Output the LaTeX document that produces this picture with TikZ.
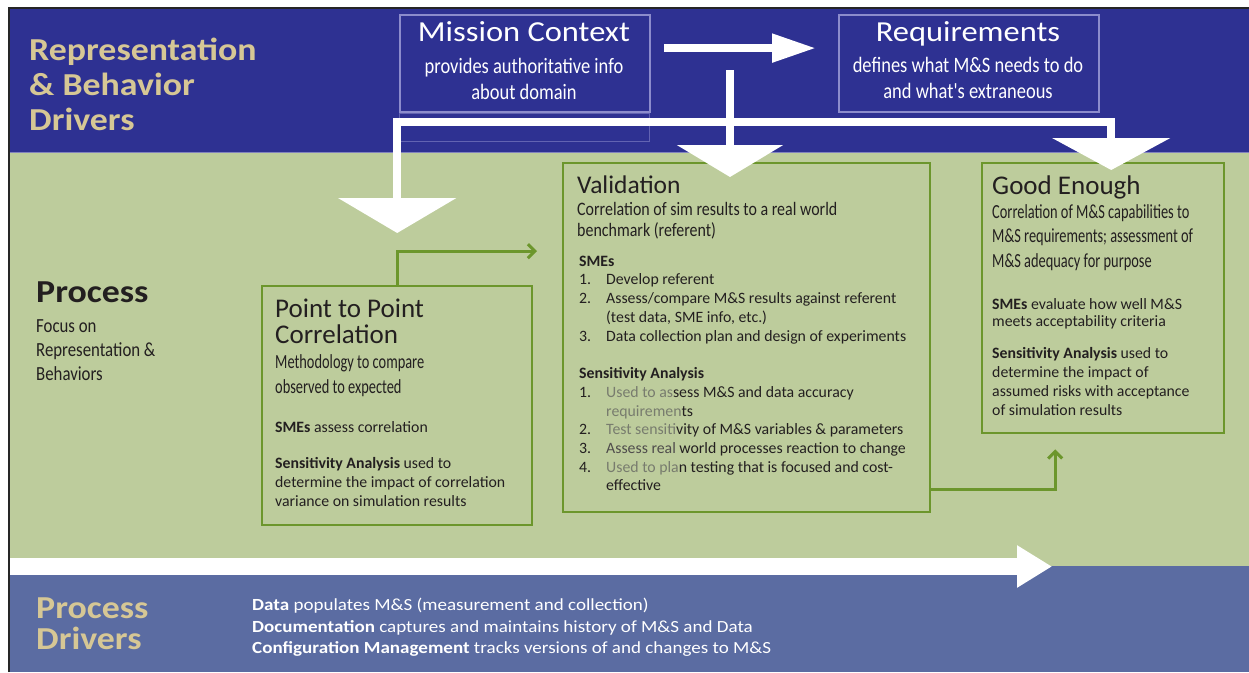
\documentclass[tikz,border=0pt]{standalone}
\usepackage{fontspec}
\setmainfont{Carlito}
\newfontfamily\condfont[FakeStretch=0.72]{Carlito}
\newfontfamily\condwide[FakeStretch=0.84]{Carlito}
\newfontfamily\hdfont[FakeStretch=1.12]{Carlito}
\newfontfamily\widefont[FakeStretch=1.12]{Carlito}
\usepackage{xcolor}
\usetikzlibrary{arrows.meta,positioning,calc}
\definecolor{navyband}{RGB}{46,49,146}
\definecolor{sageband}{RGB}{189,204,156}
\definecolor{slateband}{RGB}{91,108,162}
\definecolor{tanhead}{RGB}{214,199,149}
\definecolor{lavline}{RGB}{140,140,204}
\definecolor{boxgreen}{RGB}{108,150,44}
\definecolor{inkdark}{RGB}{35,31,32}
\definecolor{fadeink}{RGB}{120,124,110}
\newcommand{\fsz}[2]{\fontsize{#1}{#2}\selectfont}
\newcommand{\blr}[1]{{\color{fadeink}#1}}
\newcommand{\nm}[1]{\makebox[27pt][l]{#1}}

\begin{document}
\begin{tikzpicture}[x=1pt,y=-1pt]
\tikzset{
  hb/.style={rectangle,draw=lavline,line width=2.2pt,anchor=north west,inner sep=0pt,minimum height=97pt},
  gb/.style={rectangle,draw=boxgreen,line width=2.4pt,anchor=north west,inner sep=0pt},
  wa/.style={draw=white,line width=8pt},
  ga/.style={draw=boxgreen,line width=3pt,-{Straight Barb[length=7pt,width=14pt]}},
  tx/.style={anchor=north west,inner sep=0pt,align=left,text=inkdark},
  ht/.style={anchor=base,inner sep=0pt,text=white,font=\hdfont\fsz{29}{30}},
  hs/.style={anchor=north,inner sep=0pt,align=center,text=white,font=\condwide\fsz{22}{26}}
}
\useasboundingbox (0,0) rectangle (1249,672);
% bands
\fill[navyband] (10,9) rectangle (1249,152);
\fill[sageband] (10,152) rectangle (1249,566);
\fill[slateband] (10,566) rectangle (1249,672);
\draw[navyband!60!white,line width=1pt] (10,152) -- (1249,152);
\draw[black!85,line width=2pt] (9,672) -- (9,8) -- (1249,8);

% top row
\node[tx,text=tanhead,font=\hdfont\bfseries\fsz{32}{35}] (rbd) at (29,37.5) {Representation\\\& Behavior\\Drivers};
\node[hb,minimum width=250pt] (mc) at (399,14) {};
\draw[lavline!55!navyband,line width=0.8pt] (mc.south west) rectangle ++(250,28);
\node[ht] (mct) at (524,41) {Mission Context};
\node[hs] (mcs) at (524,58) {provides authoritative info\\about domain};
\node[hb,minimum width=260pt] (req) at (838,14) {};
\node[ht] (reqt) at (968,41) {Requirements};
\node[hs] (reqs) at (968,57) {defines what M\&S needs to do\\and what's extraneous};

% process column
\node[tx,font=\hdfont\bfseries\fsz{32}{32}] (proc) at (36,281.4) {Process};
\node[tx,font=\condwide\fsz{20}{24}] (procs) at (36,319) {Focus on\\Representation \&\\Behaviors};

% boxes
\node[gb,minimum width=270pt,minimum height=239pt] (p2p) at (261,285) {};
\node[gb,minimum width=367pt,minimum height=349pt] (val) at (562,162) {};
\node[gb,minimum width=242pt,minimum height=270pt] (ge) at (981,162) {};

\node[tx,font=\fsz{27}{26}] (p2pt) at (275,298.6) {Point to Point\\Correlation};
\node[tx,font=\condfont\fsz{20}{25}] (p2pd) at (275,354) {Methodology to compare\\observed to expected};
\node[tx,font=\fsz{15.8}{19}] (p2ps) at (275,421.5) {\textbf{SMEs} assess correlation};
\node[tx,font=\fsz{15.8}{19}] (p2pa) at (275,457.5) {\textbf{Sensitivity Analysis} used to\\determine the impact of correlation\\variance on simulation results};

\node[tx,font=\fsz{25.5}{24}] (valt) at (577,176) {Validation};
\node[tx,font=\condwide\fsz{19}{21}] (vald) at (577,202) {Correlation of sim results to a real world\\benchmark (referent)};
\node[tx,font=\fsz{15.8}{18.75}] (vals) at (579,255.5) {\textbf{SMEs}\\\nm{1.}Develop referent\\\nm{2.}Assess/compare M\&S results against referent\\\nm{}(test data, SME info, etc.)\\\nm{3.}Data collection plan and design of experiments};
\node[tx,font=\fsz{15.8}{18.67}] (vala) at (579,367.5) {\textbf{Sensitivity Analysis}\\\nm{1.}\blr{Used to as}sess M\&S and data accuracy\\\nm{}\blr{requiremen}ts\\\nm{2.}\blr{Test sensiti}vity of M\&S variables \& parameters\\\nm{3.}{\color{inkdark!80}Assess real} world processes reaction to change\\\nm{4.}\blr{Used to pla}n testing that is focused and cost-\\\nm{}effective};

\node[tx,font=\fsz{27}{25}] (get) at (992,176) {Good Enough};
\node[tx,font=\condfont\fsz{20}{24.5}] (ged) at (992,204) {Correlation of M\&S capabilities to\\M\&S requirements; assessment of\\M\&S adequacy for purpose};
\node[tx,font=\fsz{15.8}{16.5}] (ges) at (992,298.5) {\textbf{SMEs} evaluate how well M\&S\\meets acceptability criteria};
\node[tx,font=\fsz{15.8}{19}] (gea) at (992,347.5) {\textbf{Sensitivity Analysis} used to\\determine the impact of\\assumed risks with acceptance\\of simulation results};

% bottom row
\node[tx,text=tanhead,font=\hdfont\bfseries\fsz{32}{31}] (pd) at (36,597.4) {Process\\Drivers};
\node[tx,text=white,font=\widefont\fsz{17}{21.5}] (pdl) at (252,598) {\textbf{Data} populates M\&S (measurement and collection)\\\textbf{Documentation} captures and maintains history of M\&S and Data\\\textbf{Configuration Management} tracks versions of and changes to M\&S};

% white arrows
\coordinate (split) at (730,70);
\coordinate (hub) at (730,122);
\draw[wa,-{Triangle[length=44pt,width=27pt]}] ([xshift=13pt,yshift=15.5pt]mc.east) -- ([xshift=-22pt,yshift=15.5pt]req.west);
\draw[wa,shorten >=-15pt,-{Triangle[length=32pt,width=105pt]}] (split) -- (split |- val.north);
\draw[wa,-{Triangle[length=35pt,width=117pt]}] (hub) -| ([yshift=52pt]p2p.north);
\draw[wa,-{Triangle[length=32pt,width=117pt]}] (hub) -| ([xshift=8pt,yshift=-8pt]ge.north);
\coordinate (flowstart) at (10,566.5);
\coordinate (flowend) at (1052,566.5);
\draw[wa,line width=17pt,-{Triangle[length=35pt,width=40pt]}] (flowstart) -- (flowend);

% green connectors
\draw[ga] (p2p.north) |- ([xshift=-25pt,yshift=86.5pt]val.west);
\draw[ga] ([yshift=-151.5pt]val.east) -| ([xshift=-48pt,yshift=-15pt]ge.south);
\end{tikzpicture}
\end{document}
